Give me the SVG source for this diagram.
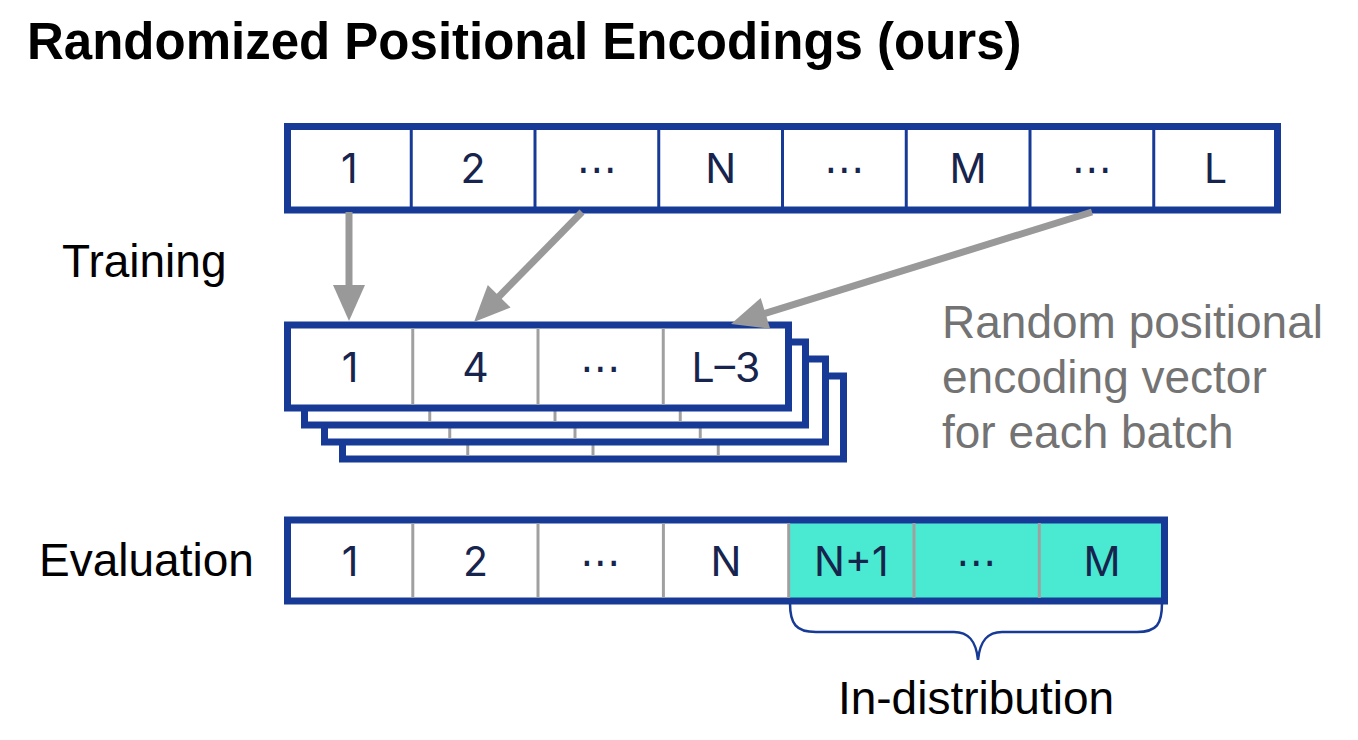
<svg xmlns="http://www.w3.org/2000/svg" width="1358" height="740" viewBox="0 0 1358 740">
<style>
.bg{fill:#ffffff}
.title{font-family:"Liberation Sans",Arial,sans-serif;font-weight:bold;font-size:51px;fill:#000}
.lbl{font-family:"Liberation Sans",Arial,sans-serif;font-size:46px;fill:#000}
.note{font-family:"Liberation Sans",Arial,sans-serif;font-size:46px;fill:#737373}
.box{fill:#ffffff;stroke:#163a96;stroke-width:7}
.teal{fill:#4aead2}
.bdiv{stroke:#163a96;stroke-width:3}
.gdiv{stroke:#a0a0a0;stroke-width:3}
.num{font-family:Inter,"DejaVu Sans",sans-serif;font-size:41px;fill:#17244d;text-anchor:middle}
.arrow{stroke:#999999;stroke-width:7;fill:none}
.head{fill:#999999}
.brace{fill:none;stroke:#163a96;stroke-width:2.5}
</style>
<rect class="bg" x="0" y="0" width="1358" height="740"/>
<text class="title" x="27" y="59">Randomized Positional Encodings (ours)</text>
<text class="lbl" x="62" y="277" font-size="45">Training</text>
<text class="lbl" x="39" y="576">Evaluation</text>
<text class="note" x="942" y="338">Random positional</text>
<text class="note" x="942" y="393">encoding vector</text>
<text class="note" x="942" y="448">for each batch</text>

<g id="training-sequence">
<rect class="box" x="287.5" y="126.5" width="990" height="83.5"/>
<line class="bdiv" x1="411.25" y1="128" x2="411.25" y2="208"/>
<line class="bdiv" x1="535" y1="128" x2="535" y2="208"/>
<line class="bdiv" x1="658.75" y1="128" x2="658.75" y2="208"/>
<line class="bdiv" x1="782.5" y1="128" x2="782.5" y2="208"/>
<line class="bdiv" x1="906.25" y1="128" x2="906.25" y2="208"/>
<line class="bdiv" x1="1030" y1="128" x2="1030" y2="208"/>
<line class="bdiv" x1="1153.75" y1="128" x2="1153.75" y2="208"/>
<text class="num" x="349.4" y="183">1</text>
<text class="num" x="473.1" y="183">2</text>
<text class="num" x="596.9" y="183">⋯</text>
<text class="num" x="720.6" y="183">N</text>
<text class="num" x="844.4" y="183">⋯</text>
<text class="num" x="968.1" y="183">M</text>
<text class="num" x="1091.9" y="183">⋯</text>
<text class="num" x="1215.6" y="183">L</text>
</g>

<g id="batch-stack">
<g transform="translate(55,51)">
<rect class="box" x="287.5" y="325" width="501" height="83"/>
<line class="gdiv" x1="412.75" y1="328" x2="412.75" y2="405"/>
<line class="gdiv" x1="538" y1="328" x2="538" y2="405"/>
<line class="gdiv" x1="663.25" y1="328" x2="663.25" y2="405"/>
</g>
<g transform="translate(37,34)">
<rect class="box" x="287.5" y="325" width="501" height="83"/>
<line class="gdiv" x1="412.75" y1="328" x2="412.75" y2="405"/>
<line class="gdiv" x1="538" y1="328" x2="538" y2="405"/>
<line class="gdiv" x1="663.25" y1="328" x2="663.25" y2="405"/>
</g>
<g transform="translate(17,17)">
<rect class="box" x="287.5" y="325" width="501" height="83"/>
<line class="gdiv" x1="412.75" y1="328" x2="412.75" y2="405"/>
<line class="gdiv" x1="538" y1="328" x2="538" y2="405"/>
<line class="gdiv" x1="663.25" y1="328" x2="663.25" y2="405"/>
</g>
<g id="batch-front">
<rect class="box" x="287.5" y="325" width="501" height="83"/>
<line class="gdiv" x1="412.75" y1="328" x2="412.75" y2="405"/>
<line class="gdiv" x1="538" y1="328" x2="538" y2="405"/>
<line class="gdiv" x1="663.25" y1="328" x2="663.25" y2="405"/>
<text class="num" x="350" y="382">1</text>
<text class="num" x="475.4" y="382">4</text>
<text class="num" x="600.6" y="382">⋯</text>
<text class="num" x="725.9" y="382">L–3</text>
</g>
</g>

<g id="evaluation-sequence">
<rect class="teal" x="788.7" y="520" width="376" height="81"/>
<rect class="box" x="287.5" y="520" width="877" height="81" style="fill:none"/>
<line class="gdiv" x1="412.8" y1="523" x2="412.8" y2="598"/>
<line class="gdiv" x1="538" y1="523" x2="538" y2="598"/>
<line class="gdiv" x1="663.4" y1="523" x2="663.4" y2="598"/>
<line class="gdiv" x1="788.7" y1="523" x2="788.7" y2="598"/>
<line class="gdiv" x1="914" y1="523" x2="914" y2="598"/>
<line class="gdiv" x1="1039.3" y1="523" x2="1039.3" y2="598"/>
<text class="num" x="350" y="576">1</text>
<text class="num" x="475.4" y="576">2</text>
<text class="num" x="600.6" y="576">⋯</text>
<text class="num" x="726" y="576">N</text>
<text class="num" x="851.3" y="576">N+1</text>
<text class="num" x="976.6" y="576">⋯</text>
<text class="num" x="1102" y="576">M</text>
</g>

<g id="in-distribution">
<path class="brace" d="M790,603 C790,624 796,632 816,632 L954,632 C968,632 976,640 978,660 C980,640 988,632 1002,632 L1137,632 C1157,632 1162,624 1162,603"/>
<text class="lbl" x="976" y="714" text-anchor="middle">In-distribution</text>
</g>

<g id="connectors">
<line class="arrow" x1="349" y1="212" x2="349" y2="287"/>
<polygon class="head" points="349,321 333,285 365,285"/>
<line class="arrow" x1="582" y1="212" x2="497.8" y2="297.7"/>
<polygon class="head" points="474,322 487.8,285.1 510.6,307.5"/>
<line class="arrow" x1="1092" y1="212" x2="763.5" y2="313.9"/>
<polygon class="head" points="731,324 760.7,298 770.1,328.6"/>
</g>
</svg>
